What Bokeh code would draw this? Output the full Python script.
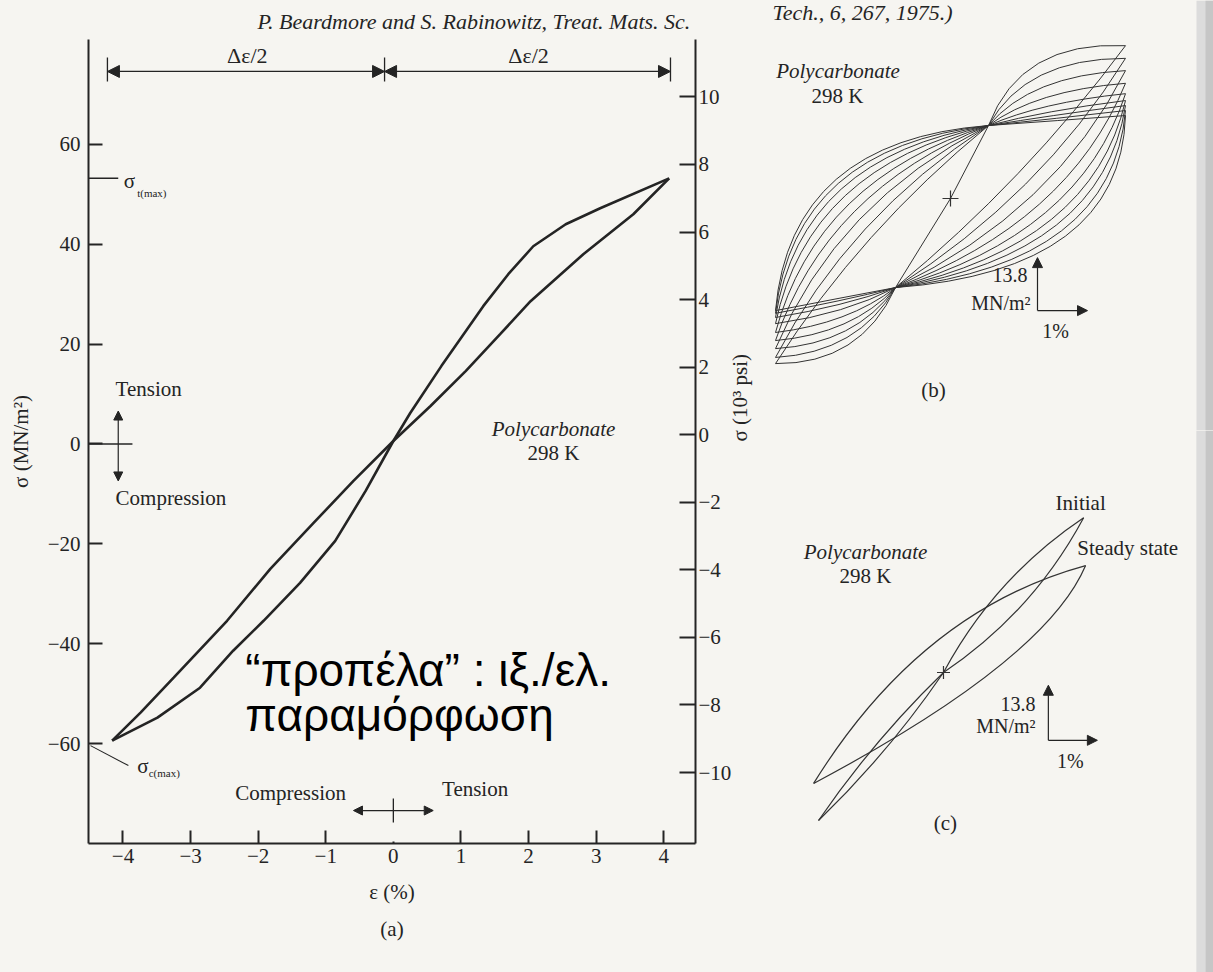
import math
from bokeh.plotting import figure
from bokeh.models import (Range1d, LinearAxis, FixedTicker, Label, Arrow,
                          NormalHead, BoxAnnotation, Title)
from bokeh.layouts import row, column
from bokeh.embed import file_html
from bokeh.resources import INLINE

# ---------------- data ----------------
# (a) one stress-strain loop of polycarbonate at 298 K; strain in %, stress in MN/m^2
a_branch1_strain = [-4.16, -3.74, -3.25, -2.46, -1.82, -1.18, -0.59, 0.00, 0.55, 1.07, 1.58, 2.03, 2.81, 3.55, 4.08]
a_branch1_stress = [-59.4, -53.8, -46.8, -35.4, -25.0, -15.8, -7.4, 0.6, 7.6, 14.6, 22.0, 28.6, 38.0, 46.0, 53.2]
a_branch2_strain = [-4.16, -3.49, -2.86, -2.37, -1.92, -1.38, -0.86, -0.41, 0.00, 0.25, 0.71, 1.33, 1.70, 2.07, 2.55, 3.06, 4.08]
a_branch2_stress = [-59.4, -54.8, -48.8, -41.4, -35.4, -27.8, -19.4, -9.4, 0.6, 6.2, 15.6, 27.6, 34.0, 39.6, 44.0, 47.2, 53.2]
a_left_ticks = [-60, -40, -20, 0, 20, 40, 60]
a_left_labels = ["−60", "−40", "−20", "0", "20", "40", "60"]
a_right_ticks = [-10, -8, -6, -4, -2, 0, 2, 4, 6, 8, 10]
a_right_labels = ["−10", "−8", "−6", "−4", "−2", "0", "2", "4", "6", "8", "10"]
a_x_ticks = [-4, -3, -2, -1, 0, 1, 2, 3, 4]
a_x_labels = ["−4", "−3", "−2", "−1", "0", "1", "2", "3", "4"]
a_sigma_t_max = 53.2
a_sigma_c_max = -59.4
a_half_range_marks = [-4.23, -0.13, 4.10]

# (b) successive cycles, strain %, stress MN/m^2 (relative to the + origin)
b_strain_amp = 3.5
b_upper_tip = [39.8, 36.5, 33.3, 30.0, 27.3, 25.5, 24.2, 22.9, 21.6]
b_lower_tip = [-43.0, -41.4, -39.1, -37.0, -34.9, -32.6, -31.0, -29.9, -29.2]
b_cross_upper = [0.76, 19.0]
b_cross_lower = [-1.10, -23.2]
b_s1_cx = [-1.80, -2.04, -2.28, -2.48, -2.68, -2.84, -3.00, -3.12, -3.20]
b_s1_cy = [-8.3, -4.7, -1.0, 2.1, 5.2, 8.3, 10.9, 13.3, 15.1]
b_s2_cx = [1.40, 1.50, 1.60, 1.70, 1.80, 1.90, 2.00, 2.10, 2.16]
b_s2_cy = [41.1, 36.5, 32.0, 28.1, 25.0, 22.9, 21.6, 20.8, 20.3]
b_s3_cx = [1.50, 1.80, 2.10, 2.36, 2.60, 2.84, 3.04, 3.24, 3.40]
b_s3_cy = [4.7, 0.8, -3.1, -6.3, -9.4, -12.0, -14.3, -16.7, -18.8]
b_s4_cx = [-1.80, -1.84, -1.90, -1.96, -2.04, -2.10, -2.16, -2.20, -2.24]
b_s4_cy = [-43.2, -40.1, -37.8, -35.2, -32.6, -30.0, -28.1, -26.8, -26.0]

# (c) initial and steady-state loops
c_init_hi = [2.86, 38.8]
c_init_lo = [-2.55, -37.1]
c_init_ctrl_x = [-1.43, -1.12, 1.82, 1.04]
c_init_ctrl_y = [-17.0, -20.1, 15.0, 23.8]
c_steady_hi = [2.90, 26.8]
c_steady_lo = [-2.65, -27.8]
c_steady_ctrl_x = [-0.47, 2.08]
c_steady_ctrl_y = [15.5, 3.0]
scale_stress = 13.8
scale_strain = 1.0

# ---------------- style ----------------
BG = "#f6f5f1"
INK = "#242424"
SERIF = "Liberation Serif"


def lab(fig, x, y, text, size=20, align="left", base="middle", style="normal",
        font=SERIF, color=INK):
    fig.add_layout(Label(x=x, y=y, text=text, text_font=font,
                         text_font_size=f"{size}px", text_align=align,
                         text_baseline=base, text_font_style=style,
                         text_color=color))


def head(size=10):
    return NormalHead(size=size, fill_color=INK, line_color=INK, line_width=1)


def arrow(fig, x0, y0, x1, y1, start=True, end=True, size=10, lw=1.3):
    fig.add_layout(Arrow(x_start=x0, y_start=y0, x_end=x1, y_end=y1,
                         start=head(size) if start else None,
                         end=head(size) if end else None,
                         line_color=INK, line_width=lw))


def style_axis(ax, ticks, labels, tick_in, standoff):
    ax.ticker = FixedTicker(ticks=ticks)
    ax.major_label_overrides = {t: s for t, s in zip(ticks, labels)}
    ax.major_tick_in = tick_in
    ax.major_tick_out = 0
    ax.minor_tick_in = 0
    ax.minor_tick_out = 0
    ax.axis_line_color = INK
    ax.axis_line_width = 2
    ax.major_tick_line_color = INK
    ax.major_tick_line_width = 2
    ax.major_label_standoff = standoff
    ax.major_label_text_font = SERIF
    ax.major_label_text_font_size = "21px"
    ax.major_label_text_color = INK
    ax.axis_label_text_font = SERIF
    ax.axis_label_text_font_size = "21px"
    ax.axis_label_text_font_style = "normal"
    ax.axis_label_text_color = INK


# ---------------- (a) main figure ----------------
p = figure(width=770, height=972, x_range=Range1d(-4.51, 4.47),
           y_range=Range1d(-80, 81), output_backend="svg",
           toolbar_location=None, min_border_left=88, min_border_right=75,
           min_border_top=38, min_border_bottom=129,
           background_fill_color=BG, border_fill_color=BG,
           outline_line_color=None)
p.grid.visible = False
p.title = Title(text="P. Beardmore and S. Rabinowitz, Treat. Mats. Sc.",
                align="left", offset=169, standoff=12,
                text_font=SERIF, text_font_size="22px",
                text_font_style="italic", text_color=INK)
p.extra_y_ranges = {"psi": Range1d(-12.1, 11.7)}
p.add_layout(LinearAxis(y_range_name="psi", axis_label="σ (10³ psi)"), "right")
p.left[0].axis_label = "σ (MN/m²)"
p.below[0].axis_label = "ε (%)"
style_axis(p.left[0], a_left_ticks, a_left_labels, 14, 8)
style_axis(p.right[0], a_right_ticks, a_right_labels, 16, 3)
style_axis(p.below[0], a_x_ticks, a_x_labels, 13, 5)
p.left[0].axis_label_standoff = 12
p.right[0].axis_label_standoff = 6
p.right[0].axis_label_orientation = math.pi / 2
p.below[0].axis_label_standoff = 14

# panel caption "(a)" as a second, tickless axis below
cap = LinearAxis(ticker=FixedTicker(ticks=[]), axis_label="(a)",
                 axis_line_color=None, major_tick_line_color=None,
                 minor_tick_line_color=None, major_label_text_font_size="0px",
                 axis_label_text_font=SERIF, axis_label_text_font_size="21px",
                 axis_label_text_font_style="normal", axis_label_text_color=INK,
                 axis_label_standoff=10)
p.add_layout(cap, "below")

# hide the tick mark at strain 0 (only its label is printed)
p.segment(x0=[0], y0=[-79.6], x1=[0], y1=[-77.0], line_color=BG, line_width=4,
          level="overlay")

p.line(a_branch1_strain, a_branch1_stress, line_color=INK, line_width=2.6)
p.line(a_branch2_strain, a_branch2_stress, line_color=INK, line_width=2.6)

# half strain range dimension
dim_y = 74.6
p.segment(x0=a_half_range_marks, y0=[72.6] * 3, x1=a_half_range_marks,
          y1=[77.4] * 3, line_color=INK, line_width=1.3)
arrow(p, a_half_range_marks[0], dim_y, a_half_range_marks[1], dim_y, size=12)
arrow(p, a_half_range_marks[1], dim_y, a_half_range_marks[2], dim_y, size=12)
lab(p, -2.16, 77.8, "Δε/2", size=22, align="center")
lab(p, 2.00, 77.8, "Δε/2", size=22, align="center")

# tension/compression markers
p.segment(x0=[-4.51], y0=[0], x1=[-3.86], y1=[0], line_color=INK, line_width=1.5)
arrow(p, -4.07, 6.6, -4.07, -7.4, size=9, lw=1.2)
lab(p, -4.11, 11.0, "Tension", size=21)
lab(p, -4.11, -10.8, "Compression", size=21)
p.segment(x0=[0], y0=[-71.0], x1=[0], y1=[-75.8], line_color=INK, line_width=1.3)
arrow(p, -0.59, -73.4, 0.59, -73.4, size=9, lw=1.2)
lab(p, -2.34, -69.8, "Compression", size=21)
lab(p, 0.72, -69.0, "Tension", size=21)

lab(p, 2.37, 3.0, "Polycarbonate", size=21, align="center", style="italic")
lab(p, 2.37, -1.8, "298 K", size=21, align="center")

# sigma max markers
p.segment(x0=[-4.51], y0=[a_sigma_t_max], x1=[-4.07], y1=[a_sigma_t_max],
          line_color=INK, line_width=1.5)
lab(p, -3.99, a_sigma_t_max - 0.6, "σ", size=21)
lab(p, -3.79, a_sigma_t_max - 3.0, "t(max)", size=11)
p.segment(x0=[-4.48], y0=[-60.4], x1=[-3.92], y1=[-64.4], line_color=INK,
          line_width=1.1)
lab(p, -3.79, -64.4, "σ", size=21)
lab(p, -3.62, -65.8, "c(max)", size=11)

# slide overlay text
lab(p, -2.19, -45.2, "“προπέλα” : ιξ./ελ.", size=46,
    font="Liberation Sans", color="#000000")
lab(p, -2.19, -54.2, "παραμόρφωση", size=46,
    font="Liberation Sans", color="#000000")


def panel(w, h, xr, yr):
    f = figure(width=w, height=h, x_range=Range1d(*xr), y_range=Range1d(*yr),
               output_backend="svg", toolbar_location=None, min_border=0,
               background_fill_color=BG, border_fill_color=BG,
               outline_line_color=None)
    f.axis.visible = False
    f.grid.visible = False
    return f


# ---------------- (b) ----------------
pb = panel(443, 430, (-3.6, 5.26), (-60.42, 51.56))
n = len(b_upper_tip)
lo_x = [-b_strain_amp] * n
hi_x = [b_strain_amp] * n
xu = [b_cross_upper[0]] * n
yu = [b_cross_upper[1]] * n
xl = [b_cross_lower[0]] * n
yl = [b_cross_lower[1]] * n
qs = dict(line_color="#333333", line_width=1.0)
pb.quadratic(x0=lo_x, y0=b_lower_tip, x1=xu, y1=yu, cx=b_s1_cx, cy=b_s1_cy, **qs)
pb.quadratic(x0=xu, y0=yu, x1=hi_x, y1=b_upper_tip, cx=b_s2_cx, cy=b_s2_cy, **qs)
pb.quadratic(x0=hi_x, y0=b_upper_tip, x1=xl, y1=yl, cx=b_s3_cx, cy=b_s3_cy, **qs)
pb.quadratic(x0=xl, y0=yl, x1=lo_x, y1=b_lower_tip, cx=b_s4_cx, cy=b_s4_cy, **qs)
pb.line([b_cross_lower[0], 0, b_cross_upper[0]], [b_cross_lower[1], 0, b_cross_upper[1]],
        line_color="#333333", line_width=1.0)
pb.scatter([0], [0], marker="cross", size=16, line_color="#333333", line_width=1.2)
lab(pb, -2.25, 33.3, "Polycarbonate", size=21, align="center", style="italic")
lab(pb, -2.26, 26.8, "298 K", size=21, align="center")
bx, by = 1.74, -29.2
arrow(pb, bx, by, bx, by + scale_stress, start=False, size=10, lw=1.2)
arrow(pb, bx, by, bx + scale_strain, by, start=False, size=10, lw=1.2)
lab(pb, 1.54, -20.0, "13.8", size=20, align="right")
lab(pb, 1.60, -27.1, "MN/m²", size=20, align="right")
lab(pb, 2.10, -34.4, "1%", size=20, align="center")
lab(pb, -0.34, -50.0, "(b)", size=21, align="center")
lab(pb, -3.56, 48.4, "Tech., 6, 267, 1975.)", size=22, style="italic")
pb.add_layout(BoxAnnotation(left=4.92, fill_color="#dcdcdc", fill_alpha=1, line_color=None))
pb.add_layout(BoxAnnotation(left=5.10, fill_color="#c6c6c6", fill_alpha=1, line_color=None))

# ---------------- (c) ----------------
pc = panel(443, 542, (-3.53, 5.51), (-75.19, 60.65))
cs = dict(line_color="#333333", line_width=1.2)
pc.quadratic(x0=[c_init_lo[0]] * 2, y0=[c_init_lo[1]] * 2, x1=[0, 0], y1=[0, 0],
             cx=c_init_ctrl_x[:2], cy=c_init_ctrl_y[:2], **cs)
pc.quadratic(x0=[0, 0], y0=[0, 0], x1=[c_init_hi[0]] * 2, y1=[c_init_hi[1]] * 2,
             cx=c_init_ctrl_x[2:], cy=c_init_ctrl_y[2:], **cs)
pc.quadratic(x0=[c_steady_lo[0], c_steady_hi[0]], y0=[c_steady_lo[1], c_steady_hi[1]],
             x1=[c_steady_hi[0], c_steady_lo[0]], y1=[c_steady_hi[1], c_steady_lo[1]],
             cx=c_steady_ctrl_x, cy=c_steady_ctrl_y, **cs)
pc.scatter([0], [0], marker="cross", size=13, line_color="#333333", line_width=1.2)
lab(pc, 2.80, 42.6, "Initial", size=21, align="center")
lab(pc, 3.76, 31.1, "Steady state", size=21, align="center")
lab(pc, -1.59, 30.1, "Polycarbonate", size=21, align="center", style="italic")
lab(pc, -1.59, 24.3, "298 K", size=21, align="center")
cx0, cy0 = 2.14, -17.0
arrow(pc, cx0, cy0, cx0, cy0 + scale_stress, start=False, size=10, lw=1.2)
arrow(pc, cx0, cy0, cx0 + scale_strain, cy0, start=False, size=10, lw=1.2)
lab(pc, 1.88, -7.8, "13.8", size=20, align="right")
lab(pc, 1.88, -13.3, "MN/m²", size=20, align="right")
lab(pc, 2.59, -22.1, "1%", size=20, align="center")
lab(pc, 0.04, -37.8, "(c)", size=21, align="center")
pc.add_layout(BoxAnnotation(left=5.16, fill_color="#dcdcdc", fill_alpha=1, line_color=None))
pc.add_layout(BoxAnnotation(left=5.35, fill_color="#c6c6c6", fill_alpha=1, line_color=None))

right_col = column(pb, pc, styles={"background-color": BG})
layout = row(p, right_col, styles={"background-color": BG})
open("out.html", "w").write(file_html(layout, INLINE))
